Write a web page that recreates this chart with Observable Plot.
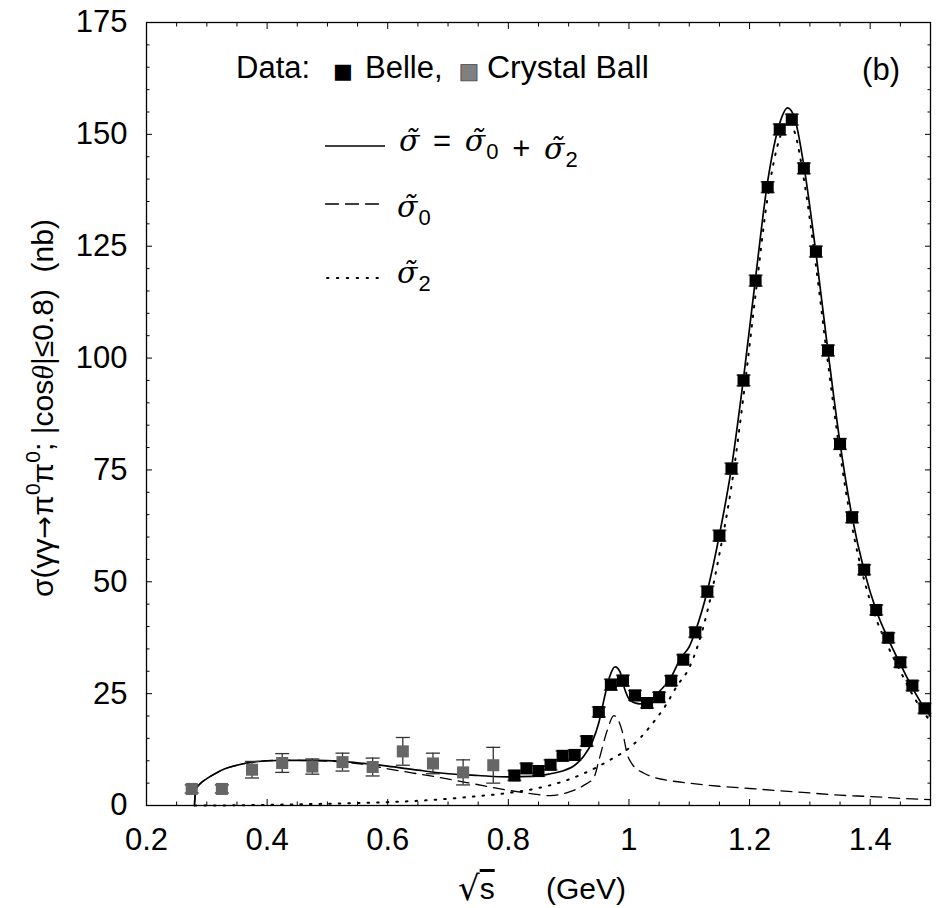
<!DOCTYPE html>
<html><head><meta charset="utf-8">
<script src="https://cdn.jsdelivr.net/npm/d3@7"></script>
<script src="https://cdn.jsdelivr.net/npm/@observablehq/plot@0.6"></script>
<style>
html,body{margin:0;padding:0;background:#fff;overflow:hidden;}
</style>
</head><body><div id="chart"></div>
<script>
// ---- Data: Belle (black squares) ----
const belleX = [0.81,0.83,0.85,0.87,0.89,0.91,0.93,0.95,0.97,0.99,1.01,1.03,1.05,1.07,1.09,1.11,1.13,1.15,1.17,1.19,1.21,1.23,1.25,1.27,1.29,1.31,1.33,1.35,1.37,1.39,1.41,1.43,1.45,1.47,1.49];
const belleY = [6.7,8.3,7.7,9.1,11.1,11.3,14.4,20.9,27.0,27.9,24.6,22.9,24.2,27.9,32.6,38.7,47.8,60.3,75.3,95.0,117.3,138.2,151.1,153.3,142.4,123.8,101.7,80.8,64.4,52.7,43.7,37.5,32.0,26.8,21.7];
const belleErr = [1.1,1.1,1.1,1.1,1.1,1.1,1.1,1.1,1.2,1.2,1.1,1.1,1.1,1.1,1.1,1.1,1.2,1.2,1.2,1.2,1.2,1.2,1.2,1.2,1.2,1.2,1.2,1.2,1.2,1.1,1.1,1.1,1.1,1.1,1.1];
// ---- Data: Crystal Ball (grey squares) ----
const cbX = [0.275,0.325,0.375,0.425,0.475,0.525,0.575,0.625,0.675,0.725,0.775];
const cbY = [3.7,3.7,8.0,9.5,8.7,9.7,8.6,12.1,9.4,7.4,9.0];
const cbErr = [0.9,0.9,1.85,2.1,1.7,2.0,2.0,3.1,2.3,2.8,4.0];
// ---- Curves ----
const totalX = [0.2795,0.2805,0.283,0.29,0.30,0.315,0.33,0.35,0.37,0.40,0.43,0.48,0.52,0.56,0.60,0.65,0.70,0.75,0.80,0.84,0.87,0.89,0.91,0.925,0.94,0.95,0.96,0.968,0.977,0.985,0.993,1.002,1.018,1.035,1.052,1.07,1.086,1.10,1.11,1.13,1.15,1.17,1.19,1.21,1.23,1.25,1.263,1.275,1.29,1.31,1.33,1.35,1.37,1.39,1.41,1.43,1.45,1.47,1.49,1.50];
const totalY = [0,2.0,3.8,5.0,6.0,7.2,8.2,9.0,9.6,10.0,10.1,10.1,9.9,9.4,8.8,7.9,7.1,6.7,6.4,6.5,7.1,7.7,9.0,11.0,14.5,18.5,24.5,28.8,31.0,29.9,26.0,23.5,22.7,23.5,25.7,28.7,33.0,35.5,38.9,48.0,60.5,75.5,95.5,118.0,139.5,152.5,155.9,153.5,143.0,123.5,101.5,81.0,64.5,52.5,43.6,37.2,31.6,26.3,21.8,20.0];
const sigma0X = [0.2795,0.2805,0.283,0.29,0.30,0.315,0.33,0.35,0.37,0.40,0.43,0.48,0.52,0.56,0.60,0.64,0.68,0.72,0.76,0.80,0.84,0.87,0.90,0.925,0.942,0.95,0.964,0.975,0.99,0.997,1.005,1.025,1.041,1.07,1.10,1.15,1.20,1.25,1.30,1.35,1.40,1.45,1.50];
const sigma0Y = [0,2.0,3.8,5.0,6.0,7.2,8.2,9.0,9.6,10.0,10.1,10.0,9.8,9.2,8.2,7.3,6.4,5.4,4.4,3.4,2.6,2.2,3.0,4.5,6.3,10.0,16.8,20.1,16.0,11.5,9.3,7.2,6.3,5.5,5.0,4.3,3.8,3.3,2.8,2.3,2.0,1.6,1.3];
const sigma2X = [0.28,0.35,0.40,0.45,0.50,0.55,0.60,0.65,0.70,0.75,0.80,0.85,0.90,0.95,0.97,1.00,1.02,1.04,1.06,1.08,1.10,1.13,1.15,1.17,1.19,1.21,1.23,1.25,1.265,1.275,1.29,1.31,1.33,1.35,1.37,1.39,1.41,1.43,1.45,1.47,1.50];
const sigma2Y = [0,0.05,0.15,0.25,0.4,0.55,0.75,1.05,1.5,2.1,2.8,3.9,5.8,8.8,10.3,12.8,15.3,18.5,22.2,26.8,30.8,43.4,56.2,71.4,91.6,114.3,136.0,149.2,152.7,150.4,140.0,120.7,98.9,78.7,62.3,50.4,41.7,35.4,30.0,24.8,18.7];
// ---- Axis ticks ----
const xMajor = [0.2,0.4,0.6,0.8,1.0,1.2,1.4];
const xLabels = ["0.2","0.4","0.6","0.8","1","1.2","1.4"];
const xMinor = [0.25,0.3,0.35,0.45,0.5,0.55,0.65,0.7,0.75,0.85,0.9,0.95,1.05,1.1,1.15,1.25,1.3,1.35,1.45];
const yMajor = [0,25,50,75,100,125,150,175];
const yLabels = ["0","25","50","75","100","125","150","175"];
const yMinor = [5,10,15,20,30,35,40,45,55,60,65,70,80,85,90,95,105,110,115,120,130,135,140,145,155,160,165,170];

const belle = belleX.map((x,i)=>({x, y: belleY[i], e: belleErr[i]}));
const cb = cbX.map((x,i)=>({x, y: cbY[i], e: cbErr[i]}));
const total = totalX.map((x,i)=>({x, y: totalY[i]}));
const s0 = sigma0X.map((x,i)=>({x, y: sigma0Y[i]}));
const s2 = sigma2X.map((x,i)=>({x, y: sigma2Y[i]}));
const capsOf = arr => arr.flatMap(d => [{x:d.x, y:d.y-d.e},{x:d.x, y:d.y+d.e}]);

const capSymbol = {draw(ctx, size){ const w = Math.sqrt(size/Math.PI); ctx.moveTo(-w,0); ctx.lineTo(w,0); }};
const SANS = "'Liberation Sans', Arial, Helvetica, sans-serif";
const SERIF = "'Liberation Serif', 'Times New Roman', serif";
const MATH = "'DejaVu Serif', serif";

const plot = Plot.plot({
  width: 938, height: 908,
  marginLeft: 146, marginRight: 8, marginTop: 22, marginBottom: 103,
  style: {fontFamily: SANS, fontSize: "31px", color: "black", background: "white"},
  x: {domain: [0.2, 1.5], label: null},
  y: {domain: [0, 175], label: null},
  marks: [
    Plot.line(s2, {x:"x", y:"y", curve:"monotone-x", stroke:"black", strokeWidth:2, strokeDasharray:"1.6,8", strokeLinecap:"round"}),
    Plot.line(s0, {x:"x", y:"y", curve:"monotone-x", stroke:"black", strokeWidth:1.3, strokeDasharray:"11,7"}),
    Plot.line(total, {x:"x", y:"y", curve:"monotone-x", stroke:"black", strokeWidth:1.7}),
    Plot.ruleX(cb, {x:"x", y1: d=>d.y-d.e, y2: d=>d.y+d.e, stroke:"#333", strokeWidth:1.3}),
    Plot.dot(capsOf(cb), {x:"x", y:"y", symbol: capSymbol, r:7, stroke:"#333", strokeWidth:1.3, fill:"none"}),
    Plot.ruleX(belle, {x:"x", y1: d=>d.y-d.e, y2: d=>d.y+d.e, stroke:"#555", strokeWidth:1.3}),
    Plot.dot(capsOf(belle), {x:"x", y:"y", symbol: capSymbol, r:7, stroke:"#555", strokeWidth:1.6, fill:"none"}),
    Plot.dot(cb, {x:"x", y:"y", symbol:"square", r:6.8, fill:"#666", stroke:"none"}),
    Plot.dot(belle, {x:"x", y:"y", symbol:"square", r:6.8, fill:"black", stroke:"none"}),
    Plot.frame({stroke:"black", strokeWidth:1.3}),
    // tick labels
    Plot.axisX(xMajor, {anchor:"bottom", tickSize:0, tickPadding:22, tickFormat:(d)=>xLabels[xMajor.indexOf(d)], label:null}),
    Plot.axisY(yMajor, {anchor:"left", tickSize:0, tickPadding:19, tickFormat:(d)=>yLabels[yMajor.indexOf(d)], label:null}),
    // inward ticks on all four sides
    Plot.axisX(xMajor, {anchor:"bottom", tickSize:-6, fill:"none", label:null}),
    Plot.axisX(xMinor, {anchor:"bottom", tickSize:-3.5, fill:"none", label:null}),
    Plot.axisX(xMajor, {anchor:"top", tickSize:-6, fill:"none", label:null}),
    Plot.axisX(xMinor, {anchor:"top", tickSize:-3.5, fill:"none", label:null}),
    Plot.axisY(yMajor, {anchor:"left", tickSize:-6, fill:"none", label:null}),
    Plot.axisY(yMinor, {anchor:"left", tickSize:-3.5, fill:"none", label:null}),
    Plot.axisY(yMajor, {anchor:"right", tickSize:-6, fill:"none", label:null}),
    Plot.axisY(yMinor, {anchor:"right", tickSize:-3.5, fill:"none", label:null})
  ]
});
document.getElementById("chart").appendChild(plot);

// ---- Annotations: axis titles and legend ----
const svg = d3.select(plot);
const g = svg.append("g").attr("fill","black").attr("text-anchor","start")
  .style("font-family", SANS).style("font-size","31px").style("white-space","pre");

// x axis title
const xt = g.append("text").attr("y", 899).style("font-size","30px");
xt.append("tspan").attr("x", 458).attr("dy",1).style("font-family","'DejaVu Sans', sans-serif").style("font-size","34px").text("\u221A");
xt.append("tspan").attr("dy",-1).style("text-decoration","overline").text("s");
xt.append("tspan").attr("x", 546).text("(GeV)");

// y axis title
const yt = g.append("text").attr("transform","translate(53,408) rotate(-90)").attr("text-anchor","middle").style("font-size","30px");
yt.append("tspan").text("\u03C3(\u03B3\u03B3");
yt.append("tspan").style("font-family", "'DejaVu Sans', sans-serif").style("font-size","27px").text("\u2192");
yt.append("tspan").text("\u03C0");
yt.append("tspan").attr("dy",-13).style("font-size","21px").text("0");
yt.append("tspan").attr("dy",13).text("\u03C0");
yt.append("tspan").attr("dy",-13).style("font-size","21px").text("0");
yt.append("tspan").attr("dy",13).text("; |cos");
yt.append("tspan").style("font-family", SERIF).style("font-style","italic").text("\u03B8");
yt.append("tspan").text("|\u22640.8)  (nb)");

// Data legend
const dl = g.append("text").attr("y",78);
dl.append("tspan").attr("x",236).text("Data:");
dl.append("tspan").attr("x",333).style("font-family","'DejaVu Sans', sans-serif").style("font-size","21px").text("\u25A0");
dl.append("tspan").attr("x",365).text("Belle,");
dl.append("tspan").attr("x",459).style("font-family","'DejaVu Sans', sans-serif").style("font-size","21px").attr("fill","#808080").attr("stroke","#404040").attr("stroke-width",0.8).text("\u25A0");
dl.append("tspan").attr("x",487).style("font-size","32px").text("Crystal Ball");

g.append("text").attr("x",900).attr("y",80).attr("text-anchor","end").text("(b)");

// curve legend samples
g.append("line").attr("x1",325).attr("x2",385).attr("y1",146).attr("y2",146).attr("stroke","black").attr("stroke-width",1.3);
g.append("line").attr("x1",325).attr("x2",383).attr("y1",204).attr("y2",204).attr("stroke","black").attr("stroke-width",1.3).attr("stroke-dasharray","14,6");
g.append("line").attr("x1",327).attr("x2",378).attr("y1",278).attr("y2",278).attr("stroke","black").attr("stroke-width",2).attr("stroke-dasharray","1.4,8.5").attr("stroke-linecap","round");

function sig(t, sub, dx){
  const s = t.append("tspan").style("font-family", MATH).style("font-style","italic").style("font-size","30px").text("\u03C3\u0303");
  if (dx) s.attr("dx", dx);
  if (sub) {
    t.append("tspan").style("font-size","22px").attr("dx",1).attr("dy",8).text(sub);
    t.append("tspan").attr("dy",-8).text("");
  }
}
const r1 = g.append("text").attr("x",399).attr("y",151);
sig(r1, null);
r1.append("tspan").attr("dx",5).text(" = ");
sig(r1,"0",5);
r1.append("tspan").attr("dx",5).text(" + ");
sig(r1,"2",5);
const r2 = g.append("text").attr("x",397).attr("y",217);
sig(r2,"0");
const r3 = g.append("text").attr("x",397).attr("y",283);
sig(r3,"2");
</script>
</body></html>
